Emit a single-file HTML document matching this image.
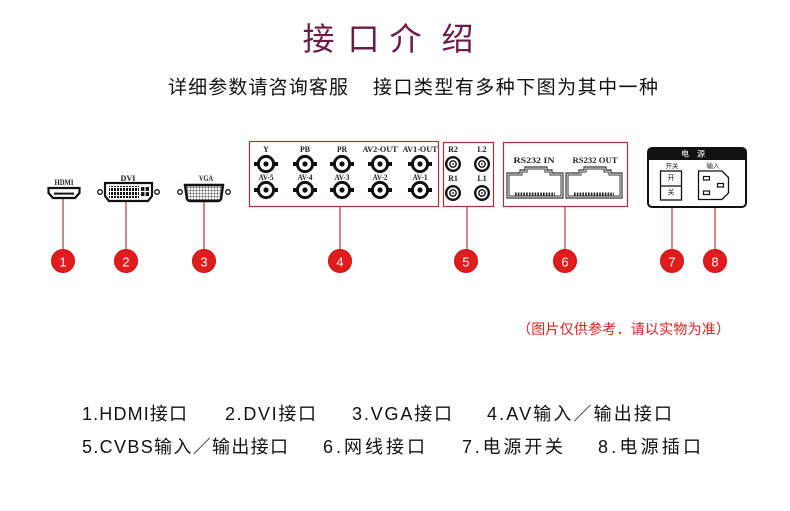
<!DOCTYPE html>
<html>
<head>
<meta charset="utf-8">
<style>
html,body{margin:0;padding:0;background:#fff;}
body{width:790px;height:511px;overflow:hidden;position:relative;}
svg{position:absolute;left:0;top:0;}
.cjk{font-family:"Liberation Sans","Noto Sans CJK SC",sans-serif;}
.ser{font-family:"Liberation Serif","Noto Serif CJK SC",serif;font-weight:bold;}
</style>
</head>
<body>
<svg width="790" height="511" viewBox="0 0 790 511" xmlns="http://www.w3.org/2000/svg">
  <defs>
    <pattern id="dvipins" x="0" y="0" width="3" height="4" patternUnits="userSpaceOnUse">
      <rect x="0" y="0" width="3" height="4" fill="#fff"/>
      <rect x="0" y="0" width="2" height="3" fill="#111"/>
    </pattern>
    <pattern id="vgadots" x="0" y="0" width="3" height="3" patternUnits="userSpaceOnUse">
      <rect x="0" y="0" width="3" height="3" fill="#fff"/>
      <circle cx="1.5" cy="1.5" r="1" fill="#555"/>
    </pattern>
    <g id="bnc">
      <rect x="-12" y="-2" width="4" height="4" fill="#111"/>
      <rect x="8" y="-2" width="4" height="4" fill="#111"/>
      <circle r="7.6" fill="#fff" stroke="#111" stroke-width="3"/>
      <circle r="2.6" fill="#111"/>
    </g>
    <g id="rca">
      <circle r="6.8" fill="#fff" stroke="#111" stroke-width="2.4"/>
      <circle r="3.2" fill="#fff" stroke="#111" stroke-width="1.4"/>
      <circle r="0.9" fill="#111"/>
    </g>
    <g id="rj">
      <path d="M0,31 L0,6 L13,6 L13,3 L18,3 L18,0 L40,0 L40,3 L45,3 L45,6 L56,6 L56,31 Z" fill="#fff" stroke="#333" stroke-width="1.2"/>
      <path d="M2,29 L2,8 L15,8 L15,5 L20,5 L20,2 L38,2 L38,5 L43,5 L43,8 L54,8 L54,29 Z" fill="none" stroke="#333" stroke-width="1"/>
      <line x1="8" y1="27" x2="48" y2="27" stroke="#222" stroke-width="3" stroke-dasharray="1.6,1.2"/>
    </g>
  </defs>

  <!-- Title -->
  <g class="cjk" fill="#6c1a48" font-size="32" text-anchor="middle" dominant-baseline="central">
    <text x="318.5" y="39">接</text>
    <text x="363.5" y="39">口</text>
    <text x="405.5" y="39">介</text>
    <text x="457.5" y="39">绍</text>
  </g>

  <!-- Subtitle -->
  <g class="cjk" fill="#111" font-size="19" dominant-baseline="central">
    <text x="168" y="88" textLength="180" lengthAdjust="spacing">详细参数请咨询客服</text>
    <text x="373" y="88" textLength="285" lengthAdjust="spacing">接口类型有多种下图为其中一种</text>
  </g>

  <!-- connector lines -->
  <g stroke="#b03a3a" stroke-width="1.2">
    <line x1="63" y1="198" x2="63" y2="252"/>
    <line x1="126" y1="201" x2="126" y2="252"/>
    <line x1="204" y1="201" x2="204" y2="252"/>
    <line x1="340" y1="207" x2="340" y2="252"/>
    <line x1="467" y1="207" x2="467" y2="252"/>
    <line x1="565" y1="207" x2="565" y2="252"/>
    <line x1="672" y1="200" x2="672" y2="252"/>
    <line x1="715" y1="199" x2="715" y2="252"/>
  </g>

  <!-- HDMI -->
  <text class="ser" x="64" y="185" font-size="8.5" text-anchor="middle" textLength="19" lengthAdjust="spacingAndGlyphs" fill="#222">HDMI</text>
  <path d="M48.5,188 L79.5,188 L79.5,193 L75,198 L53,198 L48.5,193 Z" fill="#fff" stroke="#111" stroke-width="2.2"/>
  <rect x="54" y="192.6" width="20" height="2" fill="#111"/>

  <!-- DVI -->
  <text class="ser" x="128" y="181" font-size="8.5" text-anchor="middle" textLength="15" lengthAdjust="spacingAndGlyphs" fill="#222">DVI</text>
  <circle cx="100" cy="192" r="2.3" fill="#fff" stroke="#111" stroke-width="1.3"/>
  <circle cx="157" cy="192" r="2.3" fill="#fff" stroke="#111" stroke-width="1.3"/>
  <path d="M105,183 L152,183 L152,196 L148,201 L109,201 L105,196 Z" fill="#fff" stroke="#111" stroke-width="2.2"/>
  <rect x="109" y="186" width="30" height="12" fill="url(#dvipins)"/>
  <rect x="141" y="187" width="8" height="9" fill="#111"/>
  <rect x="144.4" y="187" width="1.2" height="9" fill="#fff"/>
  <rect x="141" y="190.9" width="8" height="1.2" fill="#fff"/>

  <!-- VGA -->
  <text class="ser" x="206" y="181" font-size="8.5" text-anchor="middle" textLength="14" lengthAdjust="spacingAndGlyphs" fill="#222">VGA</text>
  <circle cx="180" cy="192" r="2.3" fill="#fff" stroke="#111" stroke-width="1.3"/>
  <circle cx="228" cy="192" r="2.3" fill="#fff" stroke="#111" stroke-width="1.3"/>
  <path d="M185,185 L223,185 L221,199 Q220,201 218,201 L190,201 Q188,201 187,199 Z" fill="url(#vgadots)" stroke="#111" stroke-width="2.5"/>

  <!-- AV box -->
  <rect x="249.5" y="141.5" width="189" height="65" fill="#fff" stroke="#a83232" stroke-width="1.2"/>
  <g class="ser" font-size="8" fill="#222" text-anchor="middle">
    <text x="266" y="152">Y</text>
    <text x="305" y="152" textLength="10" lengthAdjust="spacingAndGlyphs">PB</text>
    <text x="342" y="152" textLength="10" lengthAdjust="spacingAndGlyphs">PR</text>
    <text x="380" y="152" textLength="35" lengthAdjust="spacingAndGlyphs">AV2-OUT</text>
    <text x="420" y="152" textLength="35" lengthAdjust="spacingAndGlyphs">AV1-OUT</text>
  </g>
  <use href="#bnc" x="266" y="164"/>
  <use href="#bnc" x="305" y="164"/>
  <use href="#bnc" x="342" y="164"/>
  <use href="#bnc" x="380" y="164"/>
  <use href="#bnc" x="420" y="164"/>
  <use href="#bnc" x="266" y="190"/>
  <use href="#bnc" x="305" y="190"/>
  <use href="#bnc" x="342" y="190"/>
  <use href="#bnc" x="380" y="190"/>
  <use href="#bnc" x="420" y="190"/>
  <g class="ser" font-size="8" fill="#222" text-anchor="middle">
    <text x="266" y="180" textLength="15" lengthAdjust="spacingAndGlyphs">AV-5</text>
    <text x="305" y="180" textLength="15" lengthAdjust="spacingAndGlyphs">AV-4</text>
    <text x="342" y="180" textLength="15" lengthAdjust="spacingAndGlyphs">AV-3</text>
    <text x="380" y="180" textLength="15" lengthAdjust="spacingAndGlyphs">AV-2</text>
    <text x="420" y="180" textLength="15" lengthAdjust="spacingAndGlyphs">AV-1</text>
  </g>

  <!-- RCA box -->
  <rect x="443.5" y="142.5" width="50" height="64" fill="#fff" stroke="#a83232" stroke-width="1.2"/>
  <g class="ser" font-size="8" fill="#222" text-anchor="middle">
    <text x="453" y="152">R2</text>
    <text x="482" y="152">L2</text>
    <text x="453" y="181">R1</text>
    <text x="482" y="181">L1</text>
  </g>
  <use href="#rca" x="453" y="164"/>
  <use href="#rca" x="482" y="164"/>
  <use href="#rca" x="453" y="193"/>
  <use href="#rca" x="482" y="193"/>

  <!-- RS232 box -->
  <rect x="503.5" y="142.5" width="124" height="64" fill="#fff" stroke="#a83232" stroke-width="1.2"/>
  <g class="ser" font-size="8" fill="#222" text-anchor="middle">
    <text x="534" y="163" textLength="41" lengthAdjust="spacingAndGlyphs">RS232 IN</text>
    <text x="595" y="163" textLength="45" lengthAdjust="spacingAndGlyphs">RS232 OUT</text>
  </g>
  <use href="#rj" x="507" y="167"/>
  <use href="#rj" x="566" y="167"/>

  <!-- Power box -->
  <rect x="648" y="148" width="98" height="59" rx="4" fill="#fff" stroke="#111" stroke-width="2"/>
  <path d="M648,160 L648,152 Q648,148 652,148 L742,148 Q746,148 746,152 L746,160 Z" fill="#111"/>
  <text class="cjk" x="697" y="154" font-size="8" fill="#fff" text-anchor="middle" dominant-baseline="central" letter-spacing="8">电源</text>
  <text class="cjk" x="672" y="166.5" font-size="6.5" fill="#222" text-anchor="middle" dominant-baseline="central">开关</text>
  <text class="cjk" x="713" y="166.5" font-size="6.5" fill="#222" text-anchor="middle" dominant-baseline="central">输入</text>
  <rect x="660.5" y="171" width="21" height="29" fill="#fff" stroke="#111" stroke-width="1.3"/>
  <line x1="660.5" y1="186" x2="681.5" y2="186" stroke="#111" stroke-width="1.3"/>
  <text class="cjk" x="671" y="178.5" font-size="7" fill="#222" text-anchor="middle" dominant-baseline="central">开</text>
  <text class="cjk" x="671" y="193" font-size="7" fill="#222" text-anchor="middle" dominant-baseline="central">关</text>
  <path d="M698.5,171 L722,171 L728.5,177.5 L728.5,193 L722,199.5 L698.5,199.5 Z" fill="#fff" stroke="#111" stroke-width="1.3"/>
  <rect x="703.5" y="176.5" width="6" height="3.5" fill="#fff" stroke="#111" stroke-width="1.2"/>
  <rect x="703.5" y="191" width="6" height="3.5" fill="#fff" stroke="#111" stroke-width="1.2"/>
  <rect x="717.5" y="183.5" width="6" height="3.5" fill="#fff" stroke="#111" stroke-width="1.2"/>

  <!-- Number circles -->
  <g fill="#e01c1c" stroke="#c41515" stroke-width="1">
    <circle cx="63" cy="261" r="11.5"/>
    <circle cx="126" cy="261" r="11.5"/>
    <circle cx="204" cy="261" r="11.5"/>
    <circle cx="340" cy="261" r="11.5"/>
    <circle cx="466" cy="261" r="11.5"/>
    <circle cx="565" cy="261" r="11.5"/>
    <circle cx="672" cy="261" r="11.5"/>
    <circle cx="715" cy="261" r="11.5"/>
  </g>
  <g font-family="Liberation Sans, sans-serif" font-size="13" fill="#fff" text-anchor="middle" dominant-baseline="central">
    <text x="63" y="262">1</text>
    <text x="126" y="262">2</text>
    <text x="204" y="262">3</text>
    <text x="340" y="262">4</text>
    <text x="466" y="262">5</text>
    <text x="565" y="262">6</text>
    <text x="672" y="262">7</text>
    <text x="715" y="262">8</text>
  </g>

  <!-- Note -->
  <text class="cjk" x="517" y="329" font-size="14" fill="#e0201e" dominant-baseline="central" textLength="213" lengthAdjust="spacing">（图片仅供参考．请以实物为准）</text>

  <!-- Legend -->
  <g class="cjk" font-size="18" fill="#111" dominant-baseline="central">
    <text x="82" y="414" textLength="105" lengthAdjust="spacing">1.HDMI接口</text>
    <text x="225" y="414" textLength="91" lengthAdjust="spacing">2.DVI接口</text>
    <text x="352" y="414" textLength="100" lengthAdjust="spacing">3.VGA接口</text>
    <text x="487" y="414" textLength="185" lengthAdjust="spacing">4.AV输入／输出接口</text>
    <text x="82" y="447" textLength="206" lengthAdjust="spacing">5.CVBS输入／输出接口</text>
    <text x="323" y="447" textLength="102" lengthAdjust="spacing">6.网线接口</text>
    <text x="462" y="447" textLength="101" lengthAdjust="spacing">7.电源开关</text>
    <text x="598" y="447" textLength="103" lengthAdjust="spacing">8.电源插口</text>
  </g>
</svg>
</body>
</html>
